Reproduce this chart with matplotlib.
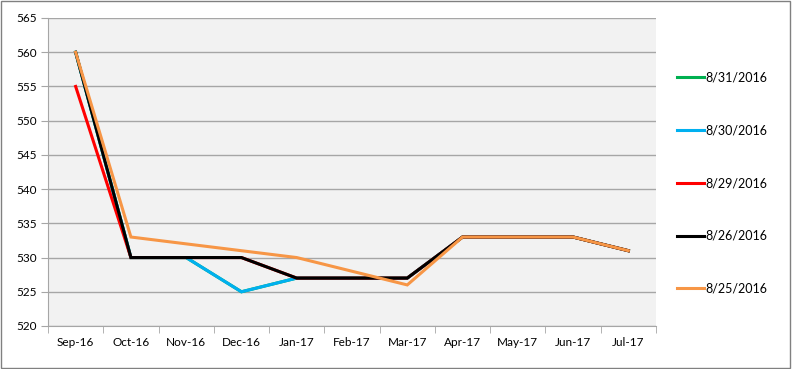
import matplotlib
matplotlib.use("Agg")
import matplotlib.pyplot as plt
from matplotlib.patches import Rectangle

plt.rcParams['font.family'] = ['Lato', 'DejaVu Sans']

# months on the x axis
months = ['Sep-16', 'Oct-16', 'Nov-16', 'Dec-16', 'Jan-17', 'Feb-17',
          'Mar-17', 'Apr-17', 'May-17', 'Jun-17', 'Jul-17']

# one curve per report date
s_0831 = [560, 530, 530, 525, 527, 527, 527, 533, 533, 533, 531]
s_0830 = [560, 530, 530, 525, 527, 527, 527, 533, 533, 533, 531]
s_0829 = [555, 530, 530, 530, 527, 527, 527, 533, 533, 533, 531]
s_0826 = [560, 530, 530, 530, 527, 527, 527, 533, 533, 533, 531]
s_0825 = [560, 533, 532, 531, 530, 528, 526, 533, 533, 533, 531]

labels = ['8/31/2016', '8/30/2016', '8/29/2016', '8/26/2016', '8/25/2016']
colors = ['#00B050', '#00B0F0', '#FF0000', '#000000', '#F79646']

fig = plt.figure(figsize=(7.92, 3.69), dpi=100)
ax = fig.add_axes([48/792, 1 - 326/369, (656-48)/792, (326-18)/369])
ax.set_facecolor('#F2F2F2')

x = range(len(months))
for ys, lab, col in zip([s_0831, s_0830, s_0829, s_0826, s_0825], labels, colors):
    ax.plot(x, ys, color=col, lw=2.2, label=lab, solid_joinstyle='miter')

ax.set_ylim(520, 565)
ax.set_yticks(range(520, 566, 5))
ax.set_xlim(-0.5, len(months) - 0.5)
ax.set_xticks(list(x))
ax.set_xticklabels(months)
ax.set_xticks([i - 0.5 for i in range(len(months) + 1)], minor=True)
ax.tick_params(axis='x', which='major', length=0, labelsize=8.5, pad=8)
ax.tick_params(axis='x', which='minor', length=5, color='#A6A6A6', direction='out')
ax.tick_params(axis='y', length=5, color='#A6A6A6', labelsize=8.5, pad=3)
ax.grid(axis='y', color='#A6A6A6', lw=1)
ax.set_axisbelow(True)
for side in ['top', 'right']:
    ax.spines[side].set_visible(False)
for side in ['left', 'bottom']:
    ax.spines[side].set_color('#A6A6A6')

leg = fig.legend(loc='upper left', bbox_to_anchor=(666/792, 1 - 60/369),
                 frameon=False, fontsize=9, handlelength=2.1,
                 handletextpad=0.15, labelspacing=3.27)

fig.patches.append(Rectangle((0.001, 0.002), 0.997, 0.995, transform=fig.transFigure,
                             fill=False, edgecolor='#808080', lw=1))

fig.savefig('out.png', dpi=100)
